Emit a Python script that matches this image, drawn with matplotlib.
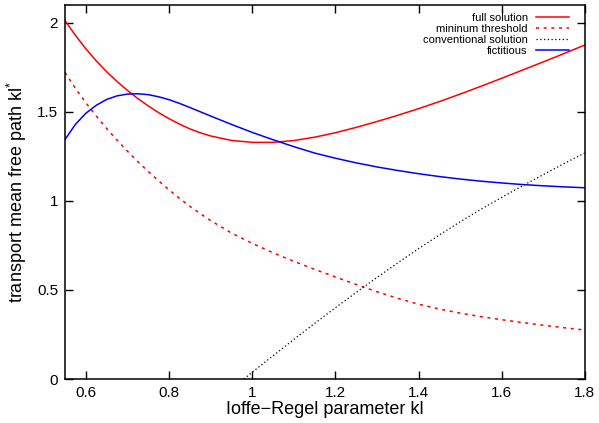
import matplotlib
matplotlib.use('Agg')
import matplotlib.pyplot as plt
from matplotlib.ticker import FuncFormatter, MultipleLocator

plt.rcParams['font.family'] = ['Liberation Sans', 'DejaVu Sans']
plt.rcParams['mathtext.fontset'] = 'custom'
plt.rcParams['mathtext.rm'] = 'Liberation Sans'
plt.rcParams['mathtext.it'] = 'Liberation Sans'

# values
kl = [0.55, 0.575, 0.60, 0.625, 0.65, 0.675, 0.70, 0.725, 0.75, 0.775, 0.80, 0.825, 0.85,
      0.875, 0.90, 0.95, 1.00, 1.05, 1.10, 1.15, 1.20, 1.25, 1.30, 1.35, 1.40, 1.45,
      1.50, 1.55, 1.60, 1.65, 1.70, 1.75, 1.80]
full_solution = [2.013, 1.930, 1.855, 1.787, 1.726, 1.671, 1.621, 1.575, 1.534, 1.496, 1.462,
                 1.432, 1.405, 1.383, 1.365, 1.340, 1.329, 1.329, 1.339, 1.358, 1.383, 1.413,
                 1.446, 1.481, 1.518, 1.558, 1.600, 1.644, 1.689, 1.735, 1.781, 1.828, 1.876]
min_threshold = [1.722, 1.632, 1.552, 1.477, 1.407, 1.342, 1.280, 1.221, 1.166, 1.113, 1.063,
                 1.015, 0.970, 0.929, 0.890, 0.820, 0.762, 0.709, 0.661, 0.616, 0.573, 0.531,
                 0.490, 0.453, 0.420, 0.393, 0.370, 0.350, 0.333, 0.317, 0.302, 0.288, 0.275]
fictitious = [1.345, 1.430, 1.492, 1.537, 1.570, 1.590, 1.600, 1.602, 1.597, 1.585, 1.569,
              1.548, 1.525, 1.501, 1.477, 1.430, 1.385, 1.344, 1.305, 1.269, 1.240, 1.214,
              1.191, 1.171, 1.153, 1.137, 1.123, 1.111, 1.101, 1.092, 1.085, 1.079, 1.074]
kl_conv = [0.98, 1.00, 1.05, 1.10, 1.15, 1.20, 1.25, 1.30, 1.35, 1.40, 1.45, 1.50, 1.55,
           1.60, 1.65, 1.70, 1.75, 1.80]
conventional = [0.0, 0.038, 0.130, 0.222, 0.312, 0.400, 0.486, 0.570, 0.652, 0.732, 0.809,
                0.883, 0.953, 1.020, 1.085, 1.148, 1.210, 1.270]

fig = plt.figure(figsize=(5.99, 4.23), dpi=100)
ax = fig.add_axes([0.1085, 0.104, 0.868, 0.884])

ax.plot(kl, full_solution, color='#ff0000', lw=1.1, label='full solution')
ax.plot(kl, min_threshold, color='#ff0000', lw=1.1, ls=(0, (2, 3)), label='mininum threshold')
ax.plot(kl_conv, conventional, color='black', lw=0.9, ls=(0, (1, 2)), label='conventional solution')
ax.plot(kl, fictitious, color='#0000ff', lw=1.1, label='fictitious')

ax.set_xlim(0.55, 1.8)
ax.set_ylim(0, 2.1)
ax.xaxis.set_major_locator(MultipleLocator(0.2))
ax.yaxis.set_major_locator(MultipleLocator(0.5))
fmt = FuncFormatter(lambda v, p: '%g' % round(v, 3))
ax.xaxis.set_major_formatter(fmt)
ax.yaxis.set_major_formatter(fmt)
ax.tick_params(direction='in', top=True, right=True, length=6, width=1, labelsize=11, pad=5)
for s in ax.spines.values():
    s.set_linewidth(1.1)

ax.set_xlabel('Ioffe\u2212Regel parameter kl', fontsize=13, labelpad=1)
ax.set_ylabel(r'transport mean free path kl$^{*}$', fontsize=13, labelpad=6)

leg = ax.legend(loc='upper right', frameon=False, markerfirst=False, fontsize=8,
                handlelength=3.0, handletextpad=0.75, labelspacing=0.1,
                borderaxespad=0.3, bbox_to_anchor=(0.985, 1.0))
for t in leg.get_texts():
    t.set_ha('right')
leg._legend_box.align = 'right'

fig.savefig('out.png', dpi=100)
